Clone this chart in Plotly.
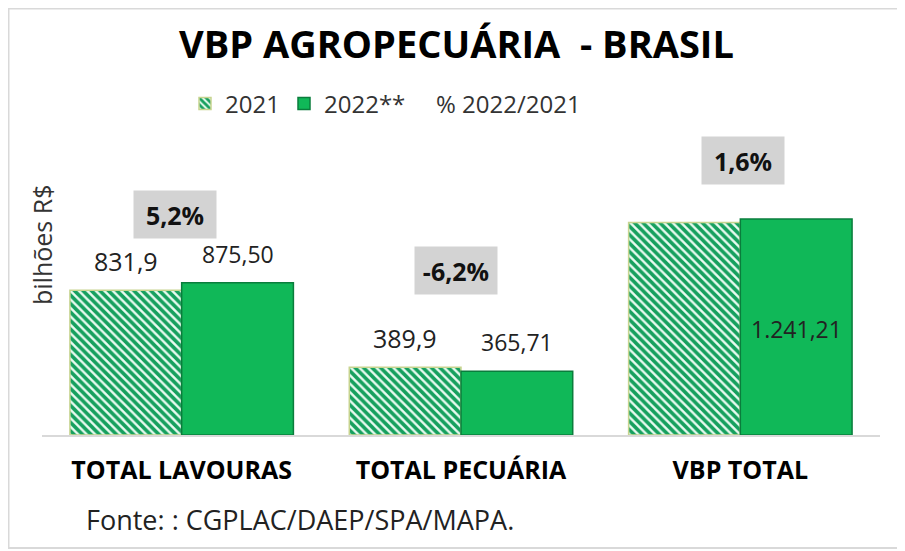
import plotly.graph_objects as go

categories = ["TOTAL LAVOURAS", "TOTAL PECUÁRIA", "VBP TOTAL"]
values_2021 = [831.9, 389.9, 1221.8]
values_2022 = [875.50, 365.71, 1241.21]
pct_change = ["5,2%", "-6,2%", "1,6%"]
labels_2021 = ["831,9", "389,9", ""]
labels_2022 = ["875,50", "365,71", "1.241,21"]

FONT = "Open Sans"
# page body has an 8px default margin; figure is sized so it ends at the window edge
W, H = 897, 543
OFF = 8
PL, PR, PT, PB = 34, 25, 72, 116   # figure margins
PW = W - PL - PR
PH = H - PT - PB


def px_x(sx):  # screen x -> plot paper x
    return (sx - OFF - PL) / PW


def px_y(sy):  # screen y -> plot paper y
    return (H - PB - (sy - OFF)) / PH


fig = go.Figure()
fig.add_trace(go.Bar(
    name="2021", x=categories, y=values_2021, legend="legend",
    marker=dict(color="#eafbf1",
                pattern=dict(shape="\\", fgcolor="#16a05e", bgcolor="#eafbf1", fgopacity=1,
                             size=6, solidity=0.6, fillmode="replace"),
                line=dict(color="#c7d48f", width=1.5)),
))
fig.add_trace(go.Bar(
    name="2022**", x=categories, y=values_2022, legend="legend2",
    marker=dict(color="#10b858", line=dict(color="#0a7d3c", width=1.5)),
))
fig.add_trace(go.Scatter(
    name="% 2022/2021", x=categories, y=[None, None, None], mode="lines", legend="legend3",
    line=dict(color="rgba(0,0,0,0)"),
))

annotations = []
for i, c in enumerate(categories):
    if labels_2021[i]:
        annotations.append(dict(x=c, y=values_2021[i], xref="x", yref="y", text=labels_2021[i],
                                showarrow=False, xshift=-56, yshift=29,
                                font=dict(family=FONT, size=25, color="#222")))
    if i < 2:
        annotations.append(dict(x=c, y=values_2022[i], xref="x", yref="y", text=labels_2022[i],
                                showarrow=False, xshift=56, yshift=29,
                                font=dict(family=FONT, size=23, color="#222")))
    else:
        annotations.append(dict(x=c, y=values_2022[i] / 2, xref="x", yref="y", text=labels_2022[i],
                                showarrow=False, xshift=56, yshift=-2,
                                font=dict(family=FONT, size=23, color="#222")))

pct_sy = [190, 270, 136]
pct_dx = [-7, -5, 3]
for i, c in enumerate(categories):
    annotations.append(dict(x=c, y=px_y(pct_sy[i]), xref="x", yref="paper",
                            text="<b>" + pct_change[i] + "</b>",
                            showarrow=False, xshift=pct_dx[i], width=80, height=45,
                            bgcolor="#d3d3d3",
                            font=dict(family=FONT, size=25, color="#111")))

annotations.append(dict(x=px_x(42), y=px_y(245), xref="paper", yref="paper", text="bilhões R$",
                        textangle=-90, showarrow=False, xanchor="center", yanchor="middle",
                        font=dict(family=FONT, size=25, color="#333")))
annotations.append(dict(x=px_x(84), y=px_y(520), xref="paper", yref="paper",
                        text="Fonte: : CGPLAC/DAEP/SPA/MAPA.",
                        showarrow=False, xanchor="left", yanchor="middle",
                        font=dict(family=FONT, size=27, color="#222")))

legend_font = dict(family=FONT, size=24, color="#333")


def leg(sx):
    return dict(orientation="h", x=px_x(sx), y=px_y(104), xanchor="left", yanchor="middle",
                font=legend_font, bgcolor="rgba(0,0,0,0)")


fig.update_layout(
    width=W, height=H,
    margin=dict(l=PL, r=PR, t=PT, b=PB),
    paper_bgcolor="white", plot_bgcolor="white",
    barmode="group", bargap=0.2, bargroupgap=0,
    title=dict(text="<b>VBP AGROPECUÁRIA  - BRASIL</b>", x=0.5, xanchor="center",
               y=1 - (45 - OFF) / H, yanchor="middle",
               font=dict(family=FONT, size=38, color="#000")),
    legend=leg(185),
    legend2=leg(284),
    legend3=leg(396),
    xaxis=dict(showline=True, linecolor="#d9d9d9", linewidth=2, ticks="", ticklabelstandoff=12,
               tickfont=dict(family=FONT, size=25, color="#000", weight="bold"), showgrid=False),
    yaxis=dict(range=[0, 2040], visible=False, showgrid=False),
    annotations=annotations,
    shapes=[dict(type="rect", xref="paper", yref="paper",
                 x0=px_x(OFF + 0.5), x1=px_x(904), y0=px_y(548), y1=px_y(OFF + 0.5),
                 line=dict(color="#d9d9d9", width=2), fillcolor="rgba(0,0,0,0)", layer="below")],
    showlegend=True,
)

fig.write_html("out.html")
